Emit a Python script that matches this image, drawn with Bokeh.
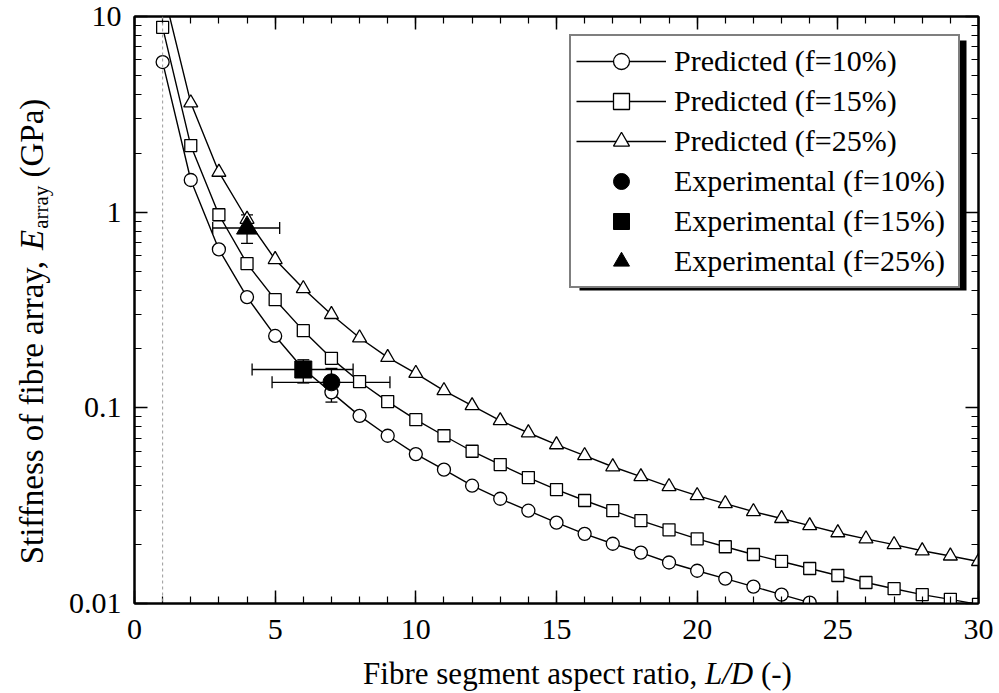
import math
from bokeh.plotting import figure
from bokeh.layouts import row, column
from bokeh.models import (ColumnDataSource, Whisker, TeeHead, Legend, LegendItem, Span, Label,
                          BoxAnnotation, FixedTicker, SingleIntervalTicker, CustomJSTickFormatter,
                          LinearAxis, LogAxis, Range1d)
from bokeh.embed import file_html
from bokeh.resources import INLINE

# ---------------- data ----------------
aspect10 = list(range(1, 25))
pred10 = [5.85, 1.46, 0.645, 0.368, 0.233, 0.158, 0.12, 0.091, 0.072, 0.058, 0.0483, 0.040,
          0.0343, 0.0298, 0.0259, 0.0227, 0.0202, 0.0182, 0.0162, 0.0147, 0.0134, 0.0122,
          0.0111, 0.0101]
aspect15 = list(range(1, 31))
pred15 = [8.8, 2.19, 0.97, 0.546, 0.357, 0.248, 0.179, 0.136, 0.1076, 0.087, 0.072, 0.060,
          0.0513, 0.044, 0.0382, 0.0336, 0.0298, 0.0265, 0.0238, 0.0214, 0.0195, 0.0178,
          0.0164, 0.0151, 0.0139, 0.0128, 0.0119, 0.0111, 0.0105, 0.0099]
aspect25 = list(range(1, 31))
pred25 = [14.0, 3.62, 1.6, 0.92, 0.573, 0.407, 0.30, 0.228, 0.181, 0.150, 0.1225, 0.1026,
          0.086, 0.0746, 0.0648, 0.057, 0.050, 0.0445, 0.0396, 0.0356, 0.0324, 0.0295,
          0.0272, 0.025, 0.023, 0.0214, 0.020, 0.0186, 0.0175, 0.0164]

exp_x = [7, 6, 4]
exp_y = [0.135, 0.157, 0.83]
exp_xlo = [4.89, 4.18, 2.78]
exp_xhi = [9.08, 7.77, 5.16]
exp_ylo = [0.107, 0.134, 0.693]
exp_yhi = [0.159, 0.176, 0.968]

pred_labels = ["Predicted (f=10%)", "Predicted (f=15%)", "Predicted (f=25%)"]
exp_labels = ["Experimental (f=10%)", "Experimental (f=15%)", "Experimental (f=25%)"]

y_ticks = [0.01, 0.1, 1, 10]
y_minor = [0.02, 0.03, 0.04, 0.05, 0.06, 0.07, 0.08, 0.09,
           0.2, 0.3, 0.4, 0.5, 0.6, 0.7, 0.8, 0.9,
           2, 3, 4, 5, 6, 7, 8, 9]
ref_line_x = 1

FONT = "Liberation Serif"

# ---------------- layout sizes (pixels) ----------------
TOTAL_H = 692
YL_W = 56                     # strip holding the y title
MAIN_W, MAIN_H = 940, 655
XL_H = TOTAL_H - MAIN_H       # strip holding the x title
BL, BR, BT, BB = 78, 18, 16, 52

p = figure(width=MAIN_W, height=MAIN_H, x_range=(0, 30), y_range=(0.01, 10), y_axis_type="log",
           output_backend="svg", toolbar_location=None, title=None,
           min_border_left=BL, min_border_right=BR, min_border_top=BT, min_border_bottom=BB)
p.grid.visible = False
p.outline_line_color = "black"
p.outline_line_width = 2
p.background_fill_color = "white"
p.border_fill_color = "white"

xt = SingleIntervalTicker(interval=5, num_minor_ticks=5)
yt = FixedTicker(ticks=y_ticks, minor_ticks=y_minor)


def style_axis(ax, labels=True, standoff=12):
    ax.axis_line_color = "black"
    ax.axis_line_width = 2
    ax.major_tick_in = 13
    ax.major_tick_out = 0
    ax.minor_tick_in = 7
    ax.minor_tick_out = 0
    ax.major_tick_line_color = "black"
    ax.minor_tick_line_color = "black"
    ax.major_tick_line_width = 1.5
    ax.minor_tick_line_width = 1.2
    if labels:
        ax.major_label_text_font = FONT
        ax.major_label_text_font_size = "30px"
        ax.major_label_text_color = "black"
        ax.major_label_standoff = standoff
    else:
        ax.major_label_text_font_size = "0px"
        ax.major_label_standoff = 0
        ax.major_label_text_color = None


p.xaxis[0].ticker = xt
p.yaxis[0].ticker = yt
p.yaxis[0].formatter = CustomJSTickFormatter(code="return tick.toString();")
style_axis(p.xaxis[0], standoff=16)
style_axis(p.yaxis[0], standoff=13)

top_ax = LinearAxis(ticker=xt)
style_axis(top_ax, labels=False)
p.add_layout(top_ax, "above")
right_ax = LogAxis(ticker=yt)
style_axis(right_ax, labels=False)
p.add_layout(right_ax, "right")

p.add_layout(Span(location=ref_line_x, dimension="height", line_color="#9a9a9a",
                  line_dash="3 3", line_width=1))

# ---------------- error bars ----------------
esrc = ColumnDataSource(dict(x=exp_x, y=exp_y, xlo=exp_xlo, xhi=exp_xhi,
                             ylo=exp_ylo, yhi=exp_yhi))
p.add_layout(Whisker(source=esrc, base="y", lower="xlo", upper="xhi", dimension="width",
                     line_color="black", line_width=1.3,
                     upper_head=TeeHead(size=12, line_width=1.3),
                     lower_head=TeeHead(size=12, line_width=1.3)))
p.add_layout(Whisker(source=esrc, base="x", lower="ylo", upper="yhi", dimension="height",
                     line_color="black", line_width=1.3,
                     upper_head=TeeHead(size=12, line_width=1.3),
                     lower_head=TeeHead(size=12, line_width=1.3)))

# ---------------- predicted ----------------
items = []
for xs, ys, mk, sz, lab in [(aspect10, pred10, "circle", 13, pred_labels[0]),
                            (aspect15, pred15, "square", 12, pred_labels[1]),
                            (aspect25, pred25, "triangle", 14, pred_labels[2])]:
    src = ColumnDataSource(dict(x=xs, y=ys))
    ln = p.line("x", "y", source=src, line_color="black", line_width=1.4)
    sc = p.scatter("x", "y", source=src, marker=mk, size=sz, fill_color="white",
                   line_color="black", line_width=1.3)
    items.append(LegendItem(label=lab, renderers=[ln, sc]))

# ---------------- experimental ----------------
for i, (mk, sz) in enumerate([("circle", 17), ("square", 17), ("triangle", 21)]):
    src = ColumnDataSource(dict(x=[exp_x[i]], y=[exp_y[i]]))
    sc = p.scatter("x", "y", source=src, marker=mk, size=sz, fill_color="black",
                   line_color="black", line_width=1)
    items.append(LegendItem(label=exp_labels[i], renderers=[sc]))

# ---------------- legend with shadow ----------------
LEG_MARGIN = 18
LEG_W, LEG_H = 387, 250
frame_right = MAIN_W - BR
leg_right = frame_right - LEG_MARGIN
leg_top = BT + LEG_MARGIN
SH = 6
p.add_layout(BoxAnnotation(left=leg_right - LEG_W + SH, right=leg_right + SH,
                           top=leg_top + SH, bottom=leg_top + LEG_H + SH,
                           left_units="canvas", right_units="canvas",
                           top_units="canvas", bottom_units="canvas",
                           fill_color="black", fill_alpha=1, line_color=None))

legend = Legend(items=items, location="top_right", margin=LEG_MARGIN, padding=5, spacing=0,
                glyph_width=90, glyph_height=40, label_height=40, label_width=279,
                label_standoff=8, label_text_font=FONT, label_text_font_size="30px",
                label_text_color="black",
                border_line_color="black", border_line_width=2.5,
                background_fill_color="white", background_fill_alpha=1)
p.add_layout(legend)

# ---------------- axis titles (mixed styles) in their own strips ----------------
REG = {' ': 250, '(': 333, ')': 333, ',': 250, '-': 333, '/': 278, '%': 833, '=': 564, '.': 250,
       'A': 722, 'D': 722, 'E': 611, 'F': 556, 'G': 722, 'L': 611, 'P': 556, 'S': 556,
       'a': 444, 'b': 500, 'c': 444, 'e': 444, 'f': 333, 'g': 500, 'i': 278, 'm': 778,
       'n': 500, 'o': 500, 'p': 500, 'r': 333, 's': 389, 't': 278, 'x': 500, 'y': 500}
ITA = dict(REG)
ITA.update({'L': 556, 'E': 611, 'D': 722, '/': 278, 'f': 278})
MID = 0.34   # distance (in em) from the alphabetic baseline up to the em-box middle


def tw(s, size, italic=False):
    t = ITA if italic else REG
    return sum(t.get(c, 500) for c in s) * size / 1000.0


def strip(w, h, bl=0, br=0, xr=None):
    f = figure(width=w, height=h, x_range=xr if xr is not None else Range1d(0, w),
               y_range=Range1d(0, h), x_axis_type=None, y_axis_type=None, title=None,
               min_border_left=bl, min_border_right=br, min_border_top=0, min_border_bottom=0,
               outline_line_color=None, output_backend="svg", toolbar_location=None)
    f.grid.visible = False
    f.background_fill_color = "white"
    f.border_fill_color = "white"
    return f


# x title strip: same side borders as the main figure; x data = page pixel column
FL = YL_W + BL
FR = YL_W + MAIN_W - BR
xs_fig = strip(MAIN_W, XL_H, bl=BL, br=BR, xr=Range1d(FL, FR))
X_FS = 31
xsp = tw(" ", X_FS)
xparts = [("Fibre segment aspect ratio,", "normal", xsp),
          ("L/D", "italic", xsp),
          ("(-)", "normal", 0)]
total = sum(tw(t, X_FS, st == "italic") + g for t, st, g in xparts)
cx = 577
x_baseline_page = 684
anchor_y = TOTAL_H - (x_baseline_page - MID * X_FS)
pos = cx - total / 2
for t, st, g in xparts:
    xs_fig.add_layout(Label(x=pos, y=anchor_y, text=t, text_font=FONT, text_font_style=st,
                            text_font_size=f"{X_FS}px", text_align="left",
                            text_baseline="middle", text_color="black"))
    pos += tw(t, X_FS, st == "italic") + g

# y title strip (left of the main figure); text reads bottom-to-top
ys_fig = strip(YL_W, TOTAL_H)
Y_FS = 33
SUB = round(Y_FS * 0.65)
ysp = tw(" ", Y_FS)
y_baseline_x = 43
yparts = [("Stiffness of fibre array,", "normal", Y_FS, ysp, 0),
          ("E", "italic", Y_FS, 1, 0),
          ("array", "normal", SUB, ysp, 5),
          ("(GPa)", "normal", Y_FS, 0, 0)]
total = sum(tw(t, fs, st == "italic") + g for t, st, fs, g, _ in yparts)
cy = TOTAL_H - 331
pos = cy - total / 2
for t, st, fs, g, sh in yparts:
    ax_x = y_baseline_x + sh - MID * fs
    ys_fig.add_layout(Label(x=ax_x, y=pos, text=t, angle=math.pi / 2,
                            text_font=FONT, text_font_style=st, text_font_size=f"{fs}px",
                            text_align="left", text_baseline="middle",
                            text_color="black"))
    pos += tw(t, fs, st == "italic") + g

page = row(ys_fig, column(p, xs_fig, spacing=0), spacing=0)
open("out.html", "w").write(file_html(page, INLINE))
